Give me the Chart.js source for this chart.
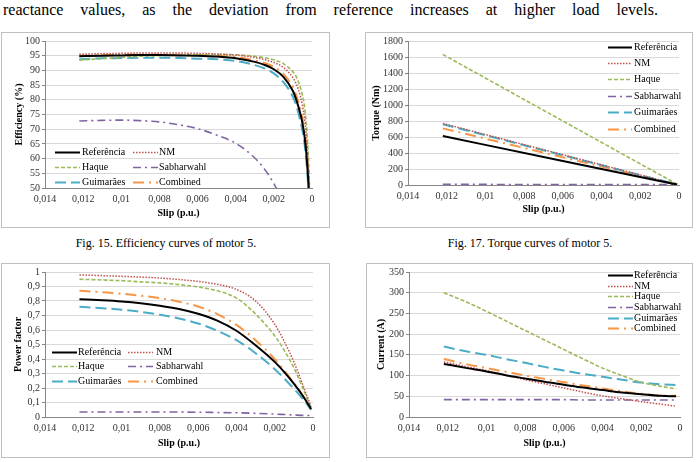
<!DOCTYPE html>
<html>
<head>
<meta charset="utf-8">
<script src="https://cdn.jsdelivr.net/npm/chart.js@4.4.1/dist/chart.umd.min.js"></script>
<style>
body { margin: 0; width: 697px; height: 462px; background: #fff; position: relative; overflow: hidden;
       font-family: "Liberation Serif", "Times New Roman", serif; color: #000; }
.box { position: absolute; border: 1px solid #bfbfbf; box-sizing: border-box; background: #fff; }
.box canvas { position: absolute; left: 0; top: 0; }
.cap { position: absolute; font-size: 12px; white-space: nowrap; transform: translateX(-50%); top: 236px; }
#topline { position: absolute; left: 3px; width: 655px; top: 0; font-size: 16px; line-height: 19px;
           display: flex; justify-content: space-between; }
</style>
</head>
<body>
<div id="topline"><span>reactance</span><span>values,</span><span>as</span><span>the</span><span>deviation</span><span>from</span><span>reference</span><span>increases</span><span>at</span><span>higher</span><span>load</span><span>levels.</span></div>

<div class="box" style="left:1px;top:32px;width:329px;height:196px"><canvas id="effChart"></canvas></div>
<div class="box" style="left:365px;top:32px;width:328px;height:196px"><canvas id="torqueChart"></canvas></div>
<div class="box" style="left:1px;top:263px;width:329px;height:195px"><canvas id="pfChart"></canvas></div>
<div class="box" style="left:366px;top:263px;width:327px;height:195px"><canvas id="currentChart"></canvas></div>

<div class="cap" style="left:166px">Fig. 15. Efficiency curves of motor 5.</div>
<div class="cap" style="left:530px">Fig. 17. Torque curves of motor 5.</div>

<script>
// series names (same for the four charts)
const seriesNames = ['Referência', 'NM', 'Haque', 'Sabharwahl', 'Guimarães', 'Combined'];

// efficiency (%) vs slip
const slipEff = [0.0122, 0.011, 0.010, 0.009, 0.008, 0.007, 0.006, 0.005, 0.004, 0.003, 0.0025, 0.002, 0.0015, 0.001, 0.0008, 0.0006, 0.0005, 0.0004, 0.0003, 0.0002, 0.00012];
const effRef  = [94.8, 95.0, 95.1, 95.2, 95.2, 95.1, 95.0, 94.7, 94.1, 92.9, 91.9, 90.4, 87.8, 83.0, 79.5, 75.0, 72.0, 68.0, 62.0, 53.0, 42.0];
const effNM   = [95.5, 95.7, 95.8, 95.9, 95.9, 95.9, 95.8, 95.6, 95.2, 94.4, 93.7, 92.7, 91.0, 87.5, 85.0, 81.0, 78.0, 74.0, 68.0, 58.0, 46.0];
const effHaq  = [93.5, 94.0, 94.4, 94.8, 95.0, 95.2, 95.3, 95.4, 95.3, 94.8, 94.3, 93.6, 92.3, 89.5, 87.5, 84.0, 81.5, 78.0, 72.0, 62.0, 49.0];
const effSab  = [72.8, 73.0, 73.1, 72.9, 72.5, 71.5, 70.2, 68.0, 65.2, 60.2, 56.5, 51.5, 45.0, null, null, null, null, null, null, null, null];
const effGui  = [93.8, 94.1, 94.2, 94.3, 94.3, 94.2, 94.0, 93.8, 93.2, 91.8, 90.7, 89.0, 86.0, 81.0, 77.5, 72.5, 69.5, 65.5, 59.5, 51.0, 41.0];
const effComb = [95.0, 95.2, 95.3, 95.4, 95.4, 95.3, 95.2, 95.0, 94.5, 93.4, 92.5, 91.2, 88.8, 84.3, 81.0, 76.5, 73.5, 69.5, 63.5, 54.0, 43.0];

// torque (Nm) vs slip
const slipTorque = [0.0122, 0.006, 0.0001];
const tqRef  = [612, 300, 5];
const tqNM   = [770, 378, 6];
const tqHaq  = [1632, 800, 10];
const tqSab  = [8, 6, 4];
const tqGui  = [760, 372, 6];
const tqComb = [708, 346, 5];

// power factor vs slip
const slipPF = [0.0122, 0.011, 0.010, 0.009, 0.008, 0.007, 0.006, 0.005, 0.004, 0.003, 0.002, 0.0015, 0.001, 0.0005, 0.0001];
const pfRef  = [0.812, 0.805, 0.797, 0.785, 0.768, 0.745, 0.712, 0.665, 0.595, 0.495, 0.38, 0.31, 0.23, 0.14, 0.055];
const pfNM   = [0.98, 0.975, 0.97, 0.965, 0.958, 0.948, 0.935, 0.915, 0.88, 0.80, 0.64, 0.52, 0.38, 0.21, 0.07];
const pfHaq  = [0.95, 0.945, 0.94, 0.932, 0.925, 0.913, 0.897, 0.87, 0.82, 0.71, 0.56, 0.46, 0.34, 0.19, 0.06];
const pfSab  = [0.035, 0.035, 0.035, 0.035, 0.034, 0.034, 0.033, 0.031, 0.029, 0.025, 0.02, 0.017, 0.014, 0.011, 0.01];
const pfGui  = [0.76, 0.75, 0.74, 0.725, 0.705, 0.68, 0.645, 0.595, 0.53, 0.44, 0.33, 0.265, 0.195, 0.12, 0.05];
const pfComb = [0.87, 0.86, 0.85, 0.837, 0.82, 0.795, 0.762, 0.71, 0.635, 0.53, 0.40, 0.32, 0.235, 0.14, 0.05];

// current (A) vs slip
const slipCur = [0.0122, 0.011, 0.010, 0.009, 0.008, 0.007, 0.006, 0.005, 0.004, 0.003, 0.002, 0.001, 0.0002];
const curRef  = [128, 118, 110, 101, 93, 85, 78, 71, 65, 59, 55, 51, 50];
const curNM   = [133, 121, 112, 101, 90, 80, 70, 60, 51, 44, 37, 31, 26];
const curHaq  = [300, 277, 255, 232, 209, 186, 163, 140, 118, 100, 84, 74, 68];
const curSab  = [42, 42, 42, 42, 42, 42, 42, 41, 41, 41, 41, 41, 41];
const curGui  = [170, 158, 150, 140, 131, 121, 112, 104, 97, 90, 83, 79, 77];
const curComb = [140, 127, 118, 109, 100, 92, 84, 76, 69, 62, 56, 52, 51];

// line styles, same order as seriesNames
const lineStyles = [
    { color: '#000000', width: 2,   dash: [] },
    { color: '#C0504D', width: 1.5, dash: [1.5, 1.5] },
    { color: '#9BBB59', width: 1.6, dash: [4, 2] },
    { color: '#8064A2', width: 1.6, dash: [8, 4, 2, 4] },
    { color: '#4BACC6', width: 2,   dash: [11, 5] },
    { color: '#F79646', width: 2,   dash: [11, 5, 2, 5] }
];

const FONT = '"Liberation Serif", "Times New Roman", serif';

function fmt(v) {
    return String(+Number(v).toFixed(3)).replace('.', ',');
}

function buildDatasets(slips, seriesList) {
    return seriesList.map((vals, i) => ({
        label: seriesNames[i],
        data: slips.map((s, k) => ({ x: s, y: vals[k] })),
        borderColor: lineStyles[i].color,
        backgroundColor: lineStyles[i].color,
        borderWidth: lineStyles[i].width,
        borderDash: lineStyles[i].dash,
        pointRadius: 0,
        fill: false,
        spanGaps: false,
        cubicInterpolationMode: 'monotone'
    }));
}

// legend drawn inside the plot, like the excel original
const inLegend = {
    id: 'inLegend',
    afterDraw(chart, args, opts) {
        const ctx = chart.ctx;
        ctx.save();
        ctx.font = opts.font;
        ctx.textBaseline = 'middle';
        ctx.fillStyle = '#000';
        const nCols = opts.cols.length;
        chart.data.datasets.forEach((ds, i) => {
            const col = opts.cols[i % nCols];
            const y = Math.round(opts.rows[Math.floor(i / nCols)]) + 0.5;
            ctx.strokeStyle = ds.borderColor;
            ctx.lineWidth = ds.borderWidth;
            ctx.setLineDash(ds.borderDash || []);
            ctx.beginPath();
            ctx.moveTo(col[0], y);
            ctx.lineTo(col[0] + opts.lineLen, y);
            ctx.stroke();
            ctx.setLineDash([]);
            ctx.fillText(ds.label, col[1], y);
        });
        ctx.restore();
    }
};

// box = outer page box, plot = plot area in page coords
function makeChart(id, box, plot, yAxis, datasets, legend) {
    const cx = box.x + 1, cy = box.y + 1;
    const cw = box.w - 2, ch = box.h - 2;
    const canvas = document.getElementById(id);
    canvas.width = cw;
    canvas.height = ch;
    canvas.style.width = cw + 'px';
    canvas.style.height = ch + 'px';

    new Chart(canvas.getContext('2d'), {
        type: 'line',
        data: { datasets: datasets },
        plugins: [inLegend],
        options: {
            responsive: false,
            animation: false,
            devicePixelRatio: 1,
            layout: { padding: { left: 0, top: plot.t - cy, right: cx + cw - plot.r, bottom: 0 } },
            scales: {
                x: {
                    type: 'linear',
                    reverse: true,
                    min: 0,
                    max: 0.014,
                    afterFit: s => { s.height = cy + ch - plot.b; },
                    ticks: { stepSize: 0.002, callback: fmt, autoSkip: false, maxRotation: 0,
                             padding: 5, color: '#333', font: { family: FONT, size: 10 } },
                    grid: { display: false, drawTicks: false },
                    border: { display: true, color: '#868686' },
                    title: { display: true, text: 'Slip (p.u.)', color: '#000',
                             font: { family: FONT, size: 10, weight: 'bold' },
                             padding: { top: 0, bottom: yAxis.xTitlePad } }
                },
                y: {
                    min: yAxis.min,
                    max: yAxis.max,
                    afterFit: s => { s.width = plot.l - cx; },
                    ticks: { stepSize: yAxis.step, callback: fmt, padding: 2, autoSkip: false,
                             color: '#333', font: { family: FONT, size: 10 } },
                    grid: { color: '#D9D9D9', tickColor: '#868686', tickLength: 3 },
                    border: { display: true, color: '#868686' },
                    title: { display: true, text: yAxis.title, color: '#000',
                             font: { family: FONT, size: 10, weight: 'bold' },
                             padding: { top: yAxis.yTitlePad, bottom: 0 } }
                }
            },
            plugins: {
                legend: { display: false },
                tooltip: { enabled: false },
                inLegend: {
                    font: '10px ' + FONT,
                    lineLen: legend.lineLen,
                    rows: legend.rows.map(r => r - cy),
                    cols: legend.cols.map(c => [c[0] - cx, c[1] - cx])
                }
            }
        }
    });
}

makeChart('effChart',
    { x: 1, y: 32, w: 329, h: 196 }, { l: 45, t: 41, r: 312, b: 188 },
    { min: 50, max: 100, step: 5, title: 'Efficiency (%)', yTitlePad: 11, xTitlePad: 8 },
    buildDatasets(slipEff, [effRef, effNM, effHaq, effSab, effGui, effComb]),
    { rows: [152, 167, 182], cols: [[55, 82], [133, 159]], lineLen: 25 });

makeChart('torqueChart',
    { x: 365, y: 32, w: 328, h: 196 }, { l: 408, t: 40, r: 679, b: 185 },
    { min: 0, max: 1800, step: 200, title: 'Torque (Nm)', yTitlePad: 4, xTitlePad: 12 },
    buildDatasets(slipTorque, [tqRef, tqNM, tqHaq, tqSab, tqGui, tqComb]),
    { rows: [47, 63, 79, 96, 112, 129], cols: [[608, 634]], lineLen: 24 });

makeChart('pfChart',
    { x: 1, y: 263, w: 329, h: 195 }, { l: 45, t: 272, r: 313, b: 417 },
    { min: 0, max: 1, step: 0.1, title: 'Power factor', yTitlePad: 10, xTitlePad: 8 },
    buildDatasets(slipPF, [pfRef, pfNM, pfHaq, pfSab, pfGui, pfComb]),
    { rows: [352, 366, 381], cols: [[52, 78], [128, 156]], lineLen: 25 });

makeChart('currentChart',
    { x: 366, y: 263, w: 327, h: 195 }, { l: 409, t: 271, r: 680, b: 417 },
    { min: 0, max: 350, step: 50, title: 'Current (A)', yTitlePad: 8, xTitlePad: 8 },
    buildDatasets(slipCur, [curRef, curNM, curHaq, curSab, curGui, curComb]),
    { rows: [275, 286, 296, 307, 318, 328], cols: [[608, 634]], lineLen: 25 });
</script>
</body>
</html>
